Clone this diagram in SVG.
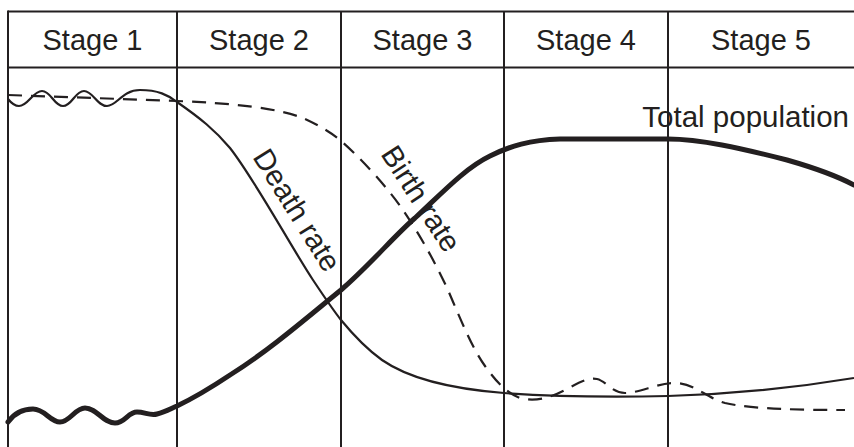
<svg xmlns="http://www.w3.org/2000/svg" width="854" height="447" viewBox="0 0 854 447">
<style>
.grid{stroke:#231f20;stroke-width:2;fill:none}
.hdr{font-family:"Liberation Sans",Arial,sans-serif;font-size:29px;fill:#231f20;text-anchor:middle}
.lbl{font-family:"Liberation Sans",Arial,sans-serif;font-size:29.5px;fill:#231f20}
.death{stroke:#231f20;stroke-width:2.2;fill:none}
.birth{stroke:#231f20;stroke-width:2.2;fill:none;stroke-dasharray:14 9}
.total{stroke:#231f20;stroke-width:5;fill:none;stroke-linecap:round}
</style>
<rect width="854" height="447" fill="#ffffff"/>
<g id="grid">
<line class="grid" x1="8" y1="11.5" x2="854" y2="11.5"/>
<line class="grid" x1="8" y1="67.5" x2="854" y2="67.5"/>
<line class="grid" x1="8" y1="10.5" x2="8" y2="447"/>
<line class="grid" x1="177" y1="11.5" x2="177" y2="447"/>
<line class="grid" x1="341" y1="11.5" x2="341" y2="447"/>
<line class="grid" x1="504" y1="11.5" x2="504" y2="447"/>
<line class="grid" x1="668" y1="11.5" x2="668" y2="447"/>
</g>
<g id="headers">
<text class="hdr" x="92.5" y="50">Stage 1</text>
<text class="hdr" x="259" y="50">Stage 2</text>
<text class="hdr" x="422.5" y="50">Stage 3</text>
<text class="hdr" x="586" y="50">Stage 4</text>
<text class="hdr" x="761" y="50">Stage 5</text>
</g>
<g id="connectors">
<path id="death-rate" class="death" d="M8,99 C12,104 15,106 19,106 C28,106 33,91 42,91 C51,91 54,106 63,106 C72,106 75,91 84,91 C93,91 97,106 107,106 C117,106 122,90 140,90 C158,90 168,95 177,102 C200,118 215,130 230,148 C255,180 290,245 313,280 C325,298 333,310 341,320 C355,337 368,350 382,360 C405,376 440,388 504,393 C560,397 620,397 668,396 C740,394 800,387 854,378"/>
<path id="birth-rate" class="birth" d="M8,95 L177,101 C230,103 280,108 305,119 C320,126 330,132 340,140 C360,157 388,188 403,210 C420,235 435,262 448,290 C460,318 472,348 485,366 C495,380 505,392 520,398 C535,402 550,398 565,390 C578,383 588,377 597,379 C606,381 612,393 625,393 C640,393 660,382 677,383 C695,384 705,397 725,403 C750,409 800,410 845,410"/>
<path id="total-population" class="total" d="M8,422 C15,412 25,409 33,409 C45,409 50,422 60,422 C70,422 75,408 85,408 C97,408 103,423 115,423 C125,423 128,412 137,412 C145,412 150,416 157,414 C165,412 170,409 177,406 C200,395 215,385 230,375 C270,350 310,315 341,290 C370,265 395,235 415,218 C440,195 465,168 490,156 C510,146 530,140 560,139 L668,139 C700,139 740,148 787,160 C815,168 835,175 854,185"/>
</g>
<g id="labels">
<text class="lbl" transform="translate(252,157) rotate(58)">Death rate</text>
<text class="lbl" transform="translate(380,154) rotate(57)">Birth rate</text>
<text class="lbl" x="849" y="127" text-anchor="end">Total population</text>
</g>
</svg>
